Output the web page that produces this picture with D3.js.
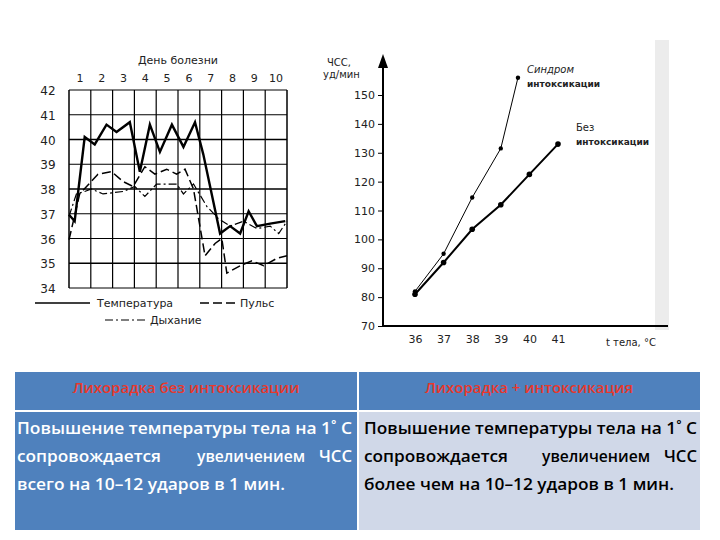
<!DOCTYPE html>
<html><head><meta charset="utf-8">
<script src="https://cdn.jsdelivr.net/npm/d3@7"></script>
<style>body{margin:0;background:#fff}svg{display:block}</style>
</head><body><svg id="c" width="720" height="540"></svg>
<script>
// left chart: temperature sheet, x in days from start (0..10)
const dayLabels = ["1","2","3","4","5","6","7","8","9","10"];
const tempTicks = [34,35,36,37,38,39,40,41,42];
const tempX = [0,0.26,0.72,1.18,1.72,2.18,2.79,3.25,3.71,4.17,4.72,5.25,5.78,6.16,6.93,7.39,7.85,8.24,8.62,9.23,9.92];
const tempY = [36.96,36.7,40.1,39.8,40.6,40.3,40.7,38.7,40.6,39.5,40.6,39.7,40.7,39.4,36.2,36.5,36.2,37.1,36.5,36.6,36.7];
const pulseX = [0,0.49,1.33,1.95,2.48,2.94,3.48,3.94,4.48,4.94,5.32,5.71,6.24,6.7,7.01,7.24,7.85,8.39,8.93,9.54,10];
const pulseY = [35.95,37.8,38.6,38.7,38.3,38.1,38.9,38.6,38.8,38.6,38.8,38.0,35.3,35.8,36.0,34.6,34.9,35.1,34.9,35.2,35.3];
const breathX = [0,0.34,0.72,1.03,1.56,2.48,3.02,3.48,4.02,4.94,5.25,5.71,6.32,6.86,7.39,8.01,8.62,9.23,9.62,10];
const breathY = [36.9,37.8,37.9,38.0,37.8,37.9,38.1,37.7,38.2,38.2,37.8,38.2,37.3,36.8,36.5,36.7,36.4,36.5,36.2,36.7];

// right chart: heart rate vs body temperature
const hrTicks = [70,80,90,100,110,120,130,140,150];
const tBodyTicks = [36,37,38,39,40,41];
const intoxT = [36,37,38,39,39.6];
const intoxHR = [82,95,114.5,131.5,156];
const plainT = [36,37,38,39,40,41];
const plainHR = [81,92,103.5,112,122.5,133];

const svg = d3.select("#c");
const font = "'DejaVu Sans', sans-serif";

// ---- left chart
const xd = d3.scaleLinear().domain([0,10]).range([69,287]);
const yt = d3.scaleLinear().domain([34,42]).range([288,90]);
const L = svg.append("g");
L.selectAll(".vg").data(d3.range(0,11)).enter().append("line")
  .attr("x1", d => xd(d)).attr("x2", d => xd(d)).attr("y1", yt(42)).attr("y2", yt(34))
  .attr("stroke", "#000").attr("stroke-width", d => (d===0||d===10) ? 1.5 : 1.2);
L.selectAll(".hg").data(tempTicks).enter().append("line")
  .attr("x1", xd(0)).attr("x2", xd(10)).attr("y1", d => yt(d)).attr("y2", d => yt(d))
  .attr("stroke", "#000").attr("stroke-width", d => (d===35||d===38||d===40) ? 1.6 : 1);
L.selectAll(".tl").data(tempTicks).enter().append("text")
  .attr("x", 48).attr("y", d => yt(d) + 5).attr("text-anchor", "middle")
  .attr("font-family", font).attr("font-size", 12).attr("fill", "#222").text(d => d);
L.selectAll(".dl").data(dayLabels).enter().append("text")
  .attr("x", (d, i) => xd(i + 0.5)).attr("y", 82).attr("text-anchor", "middle")
  .attr("font-family", font).attr("font-size", 11).attr("fill", "#222").text(d => d);
L.append("text").attr("x", xd(5)).attr("y", 64).attr("text-anchor", "middle")
  .attr("font-family", font).attr("font-size", 11).attr("fill", "#222").text("День болезни");

function series(g, xs, ys, xsc, ysc, w, dash) {
  const line = d3.line().x(d => xsc(d[0])).y(d => ysc(d[1]));
  g.append("path").datum(d3.zip(xs, ys)).attr("d", line).attr("fill", "none")
    .attr("stroke", "#000").attr("stroke-width", w).attr("stroke-dasharray", dash);
}
series(L, pulseX, pulseY, xd, yt, 1.5, "9,4");
series(L, breathX, breathY, xd, yt, 1.2, "8,3,2,3");
series(L, tempX, tempY, xd, yt, 2.4, null);

// legend
const lg = L.append("g").attr("font-family", font).attr("font-size", 11).attr("fill", "#222");
lg.append("line").attr("x1", 35).attr("x2", 90).attr("y1", 303).attr("y2", 303).attr("stroke", "#000").attr("stroke-width", 1.6);
lg.append("text").attr("x", 97).attr("y", 307).text("Температура");
lg.append("line").attr("x1", 200).attr("x2", 235).attr("y1", 303).attr("y2", 303).attr("stroke", "#000").attr("stroke-width", 1.6).attr("stroke-dasharray", "9,4");
lg.append("text").attr("x", 240).attr("y", 307).text("Пульс");
lg.append("line").attr("x1", 105).attr("x2", 146).attr("y1", 320).attr("y2", 320).attr("stroke", "#000").attr("stroke-width", 1.2).attr("stroke-dasharray", "8,3,2,3");
lg.append("text").attr("x", 150).attr("y", 324).text("Дыхание");

// ---- right chart
const R = svg.append("g");
R.append("rect").attr("x", 655).attr("y", 40).attr("width", 14).attr("height", 290).attr("fill", "#ececec");
const xr = d3.scaleLinear().domain([36,41]).range([415,558]);
const yr = d3.scaleLinear().domain([70,150]).range([326,95]);
R.append("g").attr("transform", "translate(383,0)")
  .call(d3.axisLeft(yr).tickValues(hrTicks).tickSize(5))
  .call(g => g.select(".domain").remove())
  .call(g => g.selectAll("text").attr("font-family", font).attr("font-size", 11).attr("fill", "#222"));
R.append("g").attr("transform", "translate(0,326)")
  .call(d3.axisBottom(xr).tickValues(tBodyTicks).tickFormat(d3.format("d")).tickSize(0).tickPadding(9))
  .call(g => g.select(".domain").remove())
  .call(g => g.selectAll("text").attr("font-family", font).attr("font-size", 11).attr("fill", "#222"));
R.append("line").attr("x1", 383).attr("x2", 383).attr("y1", 326).attr("y2", 62).attr("stroke", "#000").attr("stroke-width", 2);
R.append("path").attr("d", "M378,68 L383,54 L388,68 Z").attr("fill", "#000");
R.append("line").attr("x1", 383).attr("x2", 668).attr("y1", 326).attr("y2", 326).attr("stroke", "#000").attr("stroke-width", 2);
const rt = R.append("g").attr("font-family", font).attr("fill", "#222");
rt.append("text").attr("x", 327).attr("y", 66).attr("font-size", 10).text("ЧСС,");
rt.append("text").attr("x", 323).attr("y", 78).attr("font-size", 10).text("уд/мин");
rt.append("text").attr("x", 606).attr("y", 346).attr("font-size", 10).text("t тела, °C");
rt.append("text").attr("x", 527).attr("y", 73).attr("font-size", 10).attr("font-style", "italic").text("Синдром");
rt.append("text").attr("x", 527).attr("y", 87).attr("font-size", 9).attr("font-weight", "bold").text("интоксикации");
rt.append("text").attr("x", 576).attr("y", 131).attr("font-size", 10).text("Без");
rt.append("text").attr("x", 576).attr("y", 145).attr("font-size", 9).attr("font-weight", "bold").text("интоксикации");

series(R, intoxT, intoxHR, xr, yr, 1, null);
series(R, plainT, plainHR, xr, yr, 2, null);
R.selectAll(".pi").data(d3.zip(intoxT, intoxHR)).enter().append("circle")
  .attr("cx", d => xr(d[0])).attr("cy", d => yr(d[1])).attr("r", 2.2).attr("fill", "#000");
R.selectAll(".pp").data(d3.zip(plainT, plainHR)).enter().append("circle")
  .attr("cx", d => xr(d[0])).attr("cy", d => yr(d[1])).attr("r", 2.8).attr("fill", "#000");

// ---- table
const T = svg.append("g");
T.append("rect").attr("x", 15).attr("y", 372).attr("width", 342).attr("height", 38).attr("fill", "#4f81bd");
T.append("rect").attr("x", 359).attr("y", 372).attr("width", 341).attr("height", 38).attr("fill", "#4f81bd");
T.append("rect").attr("x", 15).attr("y", 412).attr("width", 342).attr("height", 118).attr("fill", "#4f81bd");
T.append("rect").attr("x", 359).attr("y", 412).attr("width", 341).attr("height", 118).attr("fill", "#d0d8e8");
const hdr = [["Лихорадка без интоксикации", 186], ["Лихорадка + интоксикация", 529]];
hdr.forEach(h => T.append("text").attr("x", h[1]).attr("y", 393).attr("text-anchor", "middle")
  .attr("font-family", "'Open Sans', sans-serif").attr("font-size", 15).attr("font-weight", 600)
  .attr("fill", "#e8382c").text(h[0]));

// each text run: [text, x start, width, baseline]
function cell(x0, fill, runs) {
  const g = T.append("g").attr("font-family", "'Open Sans', sans-serif").attr("font-size", 16)
    .attr("font-weight", 600).attr("fill", fill);
  runs.forEach(r => g.append("text").attr("x", x0 + r[1]).attr("y", r[3])
    .attr("textLength", r[2]).attr("lengthAdjust", "spacingAndGlyphs").text(r[0]));
}
cell(17, "#fff", [
  ["Повышение температуры тела на 1˚ С", 0, 335, 434],
  ["сопровождается", 0, 144, 462], ["увеличением", 180, 108, 462], ["ЧСС", 302, 33, 462],
  ["всего на 10–12 ударов в 1 мин.", 0, 268, 490]]);
cell(364, "#000", [
  ["Повышение температуры тела на 1˚ С", 0, 333, 434],
  ["сопровождается", 0, 144, 462], ["увеличением", 178, 108, 462], ["ЧСС", 300, 33, 462],
  ["более чем на 10–12 ударов в 1 мин.", 0, 310, 490]]);
</script></body></html>
